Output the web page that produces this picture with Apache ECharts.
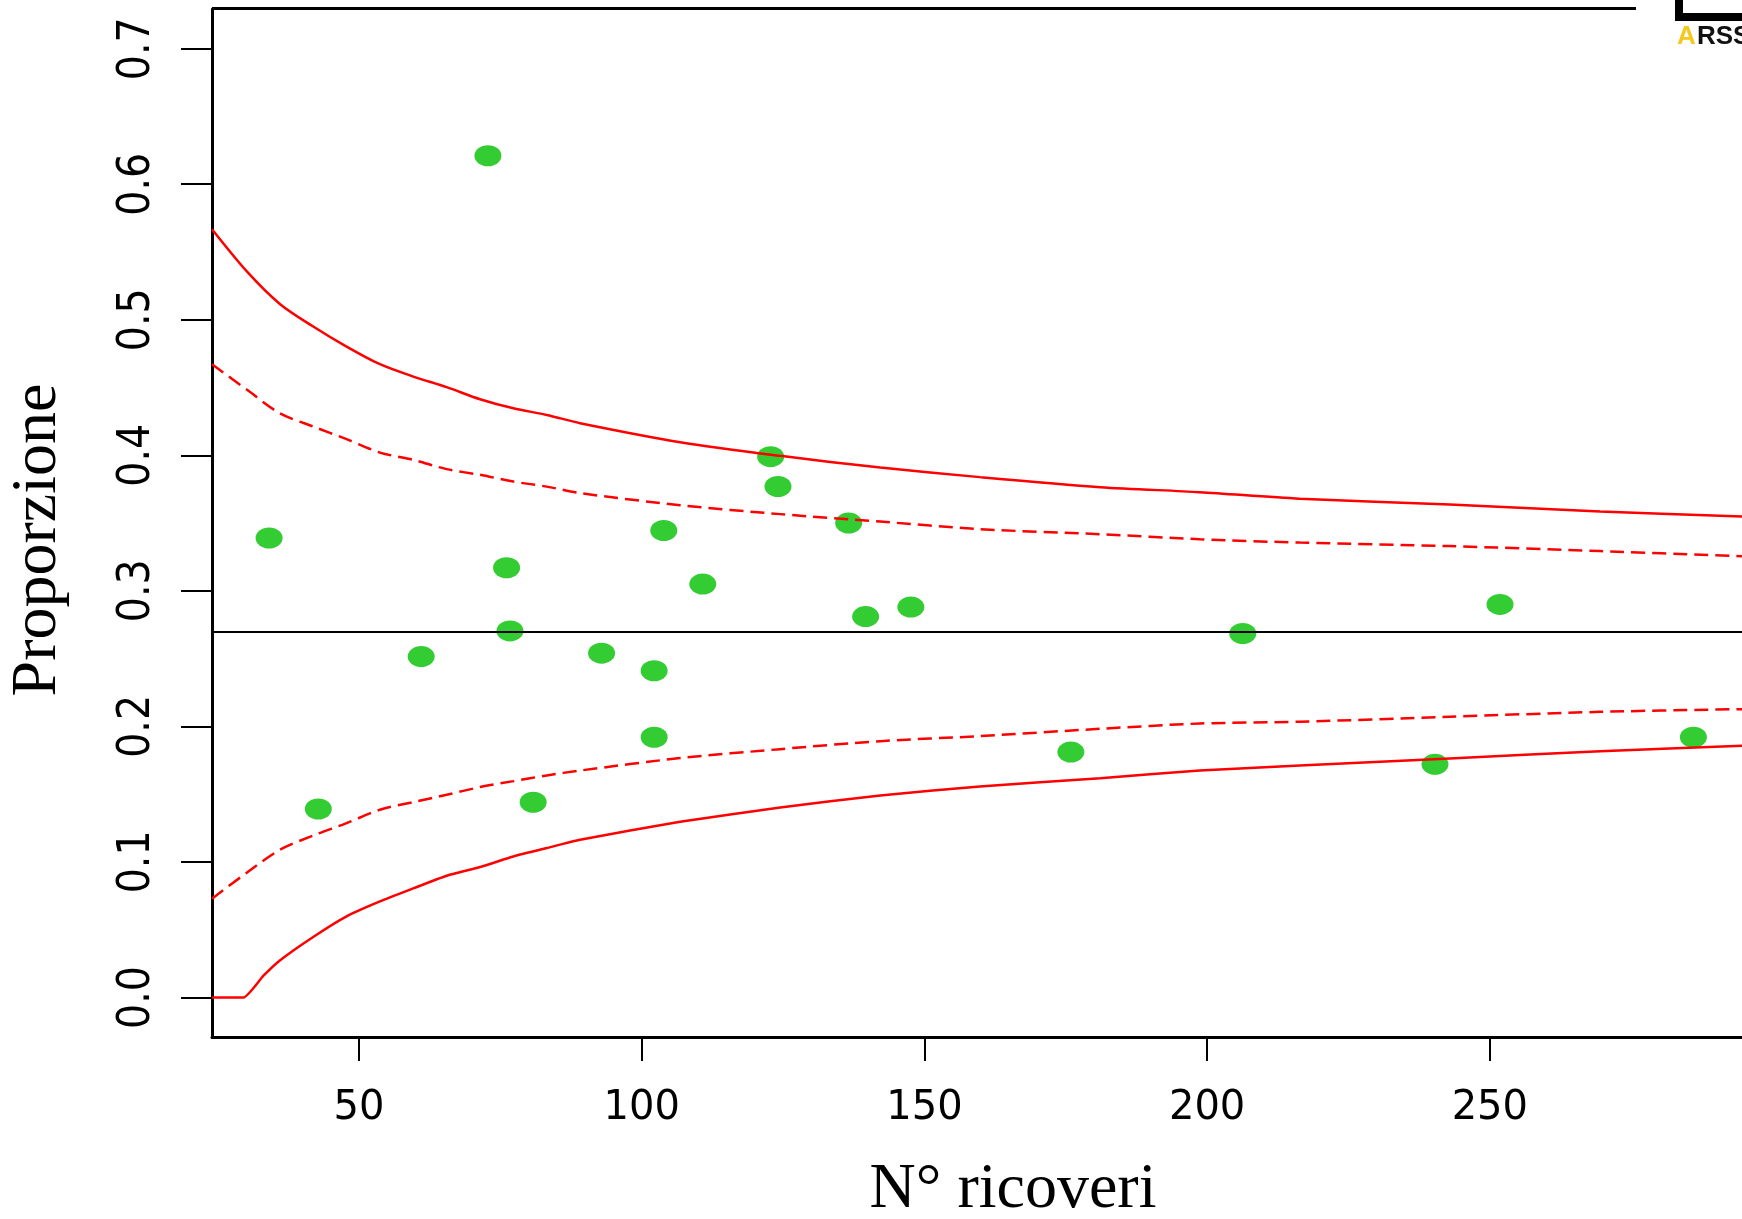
<!DOCTYPE html>
<html>
<head>
<meta charset="utf-8">
<script src="https://cdn.jsdelivr.net/npm/echarts@6/dist/echarts.min.js"></script>
<style>
html,body{margin:0;padding:0;background:#fff;}
#c{width:1742px;height:1219px;}
</style>
</head>
<body>
<div id="c"></div>
<script>
// ---- data ----
const xTicks = [50, 100, 150, 200, 250];
const yTicks = [0, 0.1, 0.2, 0.3, 0.4, 0.5, 0.6, 0.7];

// observed proportions (N° ricoveri, Proporzione)
const pointN = [34.1, 42.8, 61.0, 72.8, 76.1, 76.7, 80.8, 92.9, 102.2, 102.2, 103.9,
                110.8, 122.8, 124.1, 136.6, 139.6, 147.6, 175.9, 206.3, 240.3, 251.8, 286.0];
const pointP = [0.339, 0.139, 0.2515, 0.621, 0.317, 0.2704, 0.144, 0.254, 0.241, 0.192, 0.3445,
                0.305, 0.399, 0.377, 0.350, 0.281, 0.288, 0.181, 0.2685, 0.172, 0.290, 0.192];

// overall proportion
const centerP = 0.2692;

// control limits (read at these N values)
const limitN = [24.0, 30.2, 36.0, 41.9, 47.8, 53.7, 59.6, 65.5, 71.4, 77.3, 83.2, 89.1,
                106.8, 124.5, 142.2, 159.8, 181.1, 198.7, 216.4, 242.9, 269.5, 294.6];
const upperOuter = [0.5668, 0.5355, 0.5117, 0.4950, 0.4802, 0.4672, 0.4581, 0.4503, 0.4414, 0.4347, 0.4298, 0.4237,
                    0.4097, 0.3996, 0.3910, 0.3839, 0.3765, 0.3728, 0.3680, 0.3637, 0.3585, 0.3548];
const upperInner = [0.4672, 0.4483, 0.4310, 0.4212, 0.4119, 0.4020, 0.3966, 0.3898, 0.3856, 0.3806, 0.3769, 0.3721,
                    0.3632, 0.3566, 0.3511, 0.3455, 0.3418, 0.3381, 0.3356, 0.3330, 0.3293, 0.3256];
const lowerInner = [0.0728, 0.0922, 0.1089, 0.1195, 0.1286, 0.1385, 0.1441, 0.1495, 0.1552, 0.1596, 0.1638, 0.1674,
                    0.1766, 0.1832, 0.1891, 0.1928, 0.1982, 0.2021, 0.2034, 0.2071, 0.2107, 0.2127];
const lowerOuterN = [24.0, 29.6, 33.1, 36.0, 41.9, 47.8, 53.7, 59.6, 65.5, 71.4, 77.3, 83.2, 89.1,
                     106.8, 124.5, 142.2, 159.8, 181.1, 198.7, 216.4, 242.9, 269.5, 294.6];
const lowerOuter = [0, 0, 0.0160, 0.0273, 0.0446, 0.0598, 0.0708, 0.0804, 0.0898, 0.0962, 0.1040, 0.1102, 0.1163,
                    0.1296, 0.1402, 0.1490, 0.1556, 0.1618, 0.1674, 0.1711, 0.1763, 0.1817, 0.1857];

const xTitle = 'N° ricoveri';
const yTitle = 'Proporzione';

// ---- chart ----
const pairs = (xs, ys) => xs.map((x, i) => [x, ys[i]]);
const chart = echarts.init(document.getElementById('c'), null, {renderer: 'canvas', width: 1742, height: 1219});

const redSolid = {color: '#ff0000', width: 2.5, type: 'solid'};
const redDash = {color: '#ff0000', width: 2.5, type: [14, 7]};
const curve = {type: 'line', symbol: 'none', smooth: 0.3, z: 3, silent: true};

chart.setOption({
  animation: false,
  backgroundColor: '#ffffff',
  grid: {left: 212, right: 0, top: 9, bottom: 182, containLabel: false, outerBoundsMode: 'none'},
  xAxis: {
    type: 'value', min: 24.0, max: 294.6,
    splitLine: {show: false},
    axisLine: {show: true, onZero: false, lineStyle: {color: '#000', width: 3}},
    axisTick: {show: true, customValues: xTicks, length: 24, lineStyle: {color: '#000', width: 2}},
    axisLabel: {customValues: xTicks, margin: 52, color: '#000', fontSize: 40, fontFamily: 'DejaVu Sans'},
    name: xTitle, nameLocation: 'middle', nameGap: 121,
    nameTextStyle: {fontFamily: '"Liberation Serif", "Times New Roman", serif', fontSize: 64, color: '#000', padding: [0, 0, 0, 72]}
  },
  yAxis: {
    type: 'value', min: -0.0292, max: 0.7293,
    splitLine: {show: false},
    axisLine: {show: true, onZero: false, lineStyle: {color: '#000', width: 3}},
    axisTick: {show: true, customValues: yTicks, length: 31, lineStyle: {color: '#000', width: 2}},
    axisLabel: {customValues: yTicks, rotate: 90, margin: 52, color: '#000', fontSize: 44,
      fontFamily: '"Liberation Sans Narrow", "DejaVu Sans Condensed", "Liberation Sans", sans-serif',
      formatter: v => v.toFixed(1)},
    name: yTitle, nameLocation: 'middle', nameGap: 142, nameRotate: 90,
    nameTextStyle: {fontFamily: '"Liberation Serif", "Times New Roman", serif', fontSize: 64, color: '#000', padding: [0, 34, 0, 0]}
  },
  series: [
    {type: 'scatter', data: pairs(pointN, pointP), symbol: 'circle', symbolSize: [27, 21],
     itemStyle: {color: '#33cc33', opacity: 1}, z: 2, silent: true},
    Object.assign({}, curve, {data: pairs(limitN, upperOuter), lineStyle: redSolid,
     markLine: {silent: true, symbol: ['none', 'none'], label: {show: false},
       lineStyle: {color: '#000', width: 2, type: 'solid'}, data: [{yAxis: centerP}]}}),
    Object.assign({}, curve, {data: pairs(limitN, upperInner), lineStyle: redDash}),
    Object.assign({}, curve, {data: pairs(limitN, lowerInner), lineStyle: redDash}),
    Object.assign({}, curve, {data: pairs(lowerOuterN, lowerOuter), lineStyle: redSolid, smooth: 0.15})
  ],
  graphic: [
    {type: 'line', shape: {x1: 212, y1: 8.5, x2: 1636, y2: 8.5}, style: {stroke: '#000', lineWidth: 3}, silent: true},
    {type: 'rect', shape: {x: 1675, y: 0, width: 8, height: 21}, style: {fill: '#000'}, silent: true},
    {type: 'rect', shape: {x: 1675, y: 13, width: 67, height: 8}, style: {fill: '#000'}, silent: true},
    {type: 'text', x: 1677, y: 37, style: {text: 'A', fill: '#f5c81e', font: 'bold 26px "Liberation Sans", Arial, sans-serif', verticalAlign: 'middle'}, silent: true},
    {type: 'text', x: 1697, y: 37, style: {text: 'RSS', fill: '#111', font: 'bold 26px "Liberation Sans", Arial, sans-serif', verticalAlign: 'middle'}, silent: true}
  ]
});
</script>
</body>
</html>
